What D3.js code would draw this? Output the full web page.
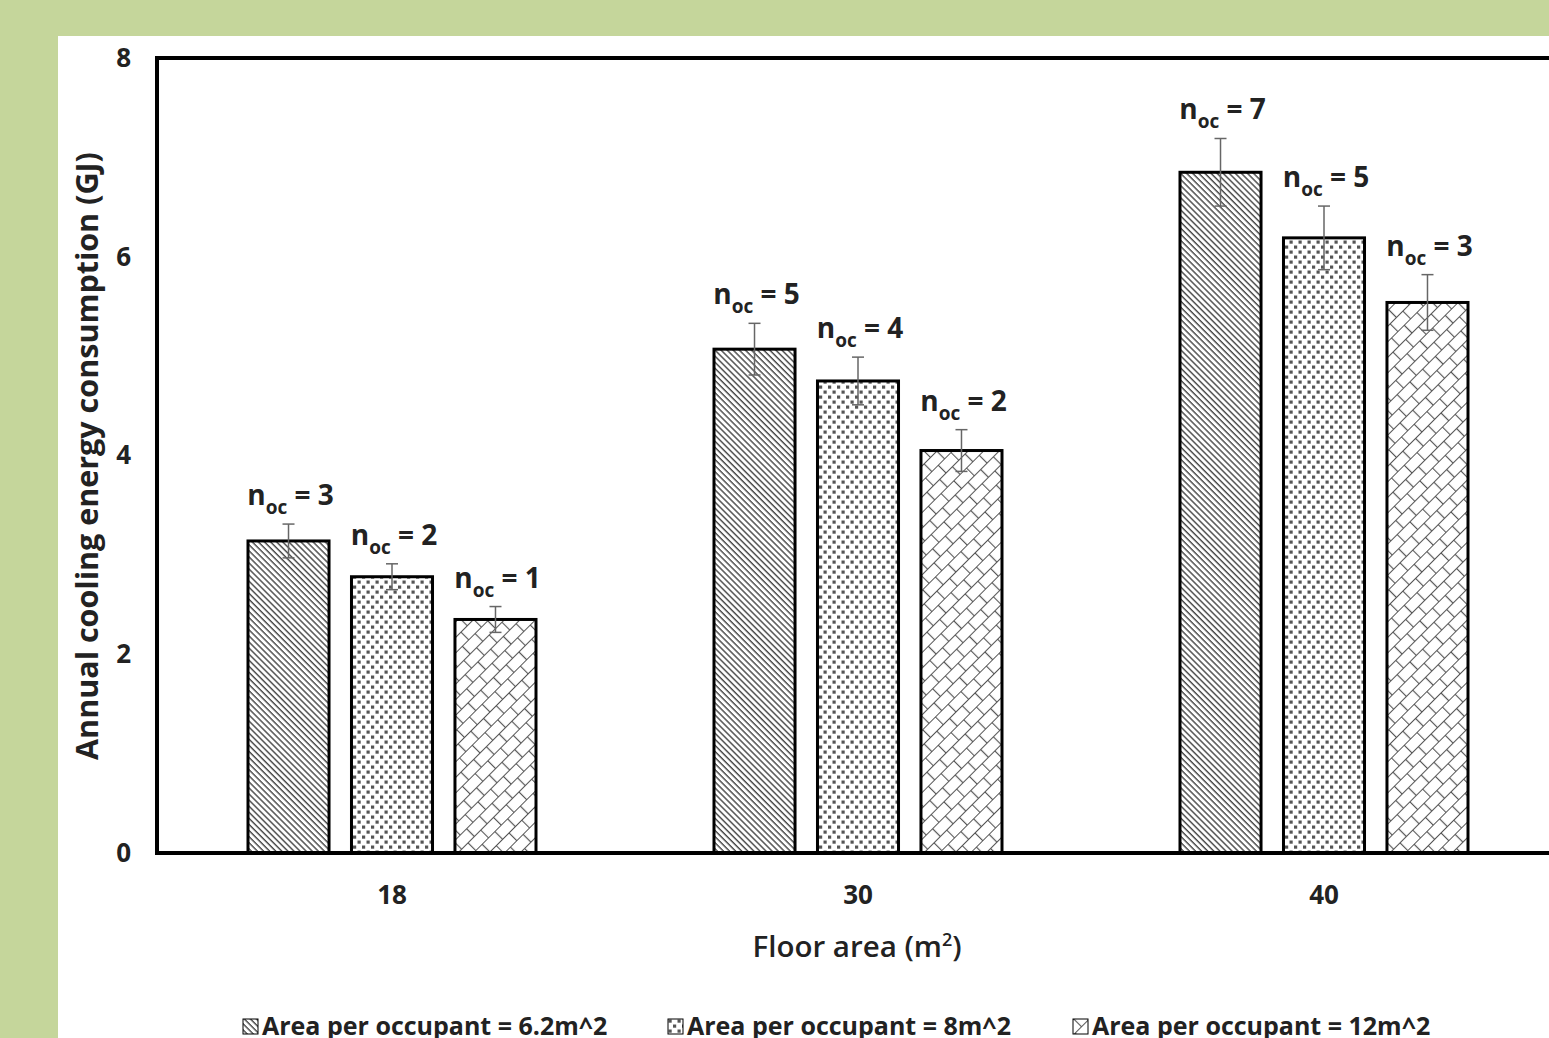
<!DOCTYPE html>
<html lang="en">
<head>
<meta charset="utf-8">
<style>
body {
  margin: 0;
  background: #c5d69b;
  overflow: hidden;
}
#chart-holder {
  position: absolute;
  left: 58px;
  top: 36px;
  width: 1491px;
  height: 1002px;
  background: #ffffff;
}
svg text {
  font-family: 'Open Sans', Lato, sans-serif;
  font-weight: bold;
  fill: #222;
}
</style>
<title>Annual cooling energy</title>
<script src="https://cdn.jsdelivr.net/npm/d3@7"></script>
</head>
<body>
<div id="chart-holder"></div>
<script>

// data
var floorAreas = ["18", "30", "40"];
var seriesNames = ["Area per occupant = 6.2m^2", "Area per occupant = 8m^2", "Area per occupant = 12m^2"];
var energy6 = [3.14, 5.07, 6.85];
var energy8 = [2.78, 4.75, 6.19];
var energy12 = [2.35, 4.05, 5.54];
var err6 = [0.17, 0.26, 0.34];
var err8 = [0.13, 0.24, 0.32];
var err12 = [0.13, 0.21, 0.28];
var occ6 = [3, 5, 7];
var occ8 = [2, 4, 5];
var occ12 = [1, 2, 3];
var yTicks = [0, 2, 4, 6, 8];

var series = [
  {key: seriesNames[0], vals: energy6, errs: err6, occ: occ6, pat: "pat-diag"},
  {key: seriesNames[1], vals: energy8, errs: err8, occ: occ8, pat: "pat-dots"},
  {key: seriesNames[2], vals: energy12, errs: err12, occ: occ12, pat: "pat-brick"}
];

var w = 1549, h = 1038;
var svg = d3.select("body").append("svg")
    .attr("width", w).attr("height", h)
    .style("position", "absolute").style("left", 0).style("top", 0);

// fill patterns
var defs = svg.append("defs");
var p1 = defs.append("pattern").attr("id", "pat-diag")
    .attr("patternUnits", "userSpaceOnUse")
    .attr("width", 4.3).attr("height", 10)
    .attr("patternTransform", "rotate(-45)");
p1.append("rect").attr("width", 4.3).attr("height", 10).attr("fill", "#fff");
p1.append("line").attr("x1", 1).attr("y1", 0).attr("x2", 1).attr("y2", 10)
    .attr("stroke", "#444").attr("stroke-width", 1.4);

var p2 = defs.append("pattern").attr("id", "pat-dots")
    .attr("patternUnits", "userSpaceOnUse")
    .attr("width", 9).attr("height", 10);
p2.append("rect").attr("width", 9).attr("height", 10).attr("fill", "#fff");
p2.append("rect").attr("x", 0.5).attr("y", 0.5).attr("width", 3.2).attr("height", 3.2).attr("fill", "#555");
p2.append("rect").attr("x", 5).attr("y", 5.5).attr("width", 3.2).attr("height", 3.2).attr("fill", "#555");

var p3 = defs.append("pattern").attr("id", "pat-brick")
    .attr("patternUnits", "userSpaceOnUse")
    .attr("width", 18).attr("height", 22)
    .attr("patternTransform", "rotate(-45)");
p3.append("rect").attr("width", 18).attr("height", 22).attr("fill", "#fff");
p3.append("path")
    .attr("d", "M0,0.5H18M0,11.5H18M0.5,0V11.5M9.5,11.5V22")
    .attr("stroke", "#555").attr("stroke-width", 1.2).attr("fill", "none");

var margin = {left: 157, top: 58, bottom: 853};
var plotRight = 157 + 3 * 466;

var x0 = d3.scaleBand().domain(floorAreas).range([margin.left + 2, plotRight + 2]);
var x1 = d3.scaleBand().domain(seriesNames).range([0, x0.bandwidth()])
    .paddingInner(0.217).paddingOuter(0.86);
var y = d3.scaleLinear().domain([0, 8]).range([margin.bottom, margin.top]);

// bars
var groups = svg.selectAll("g.grp")
    .data(floorAreas)
    .enter().append("g")
    .attr("class", "grp")
    .attr("transform", function(d){ return "translate(" + x0(d) + ",0)"; });

groups.each(function(fa, i){
  var g = d3.select(this);
  series.forEach(function(s){
    var v = s.vals[i], e = s.errs[i];
    var bx = x1(s.key), bw = x1.bandwidth(), cx = bx + bw / 2;
    g.append("rect")
      .attr("x", bx).attr("y", y(v))
      .attr("width", bw).attr("height", y(0) - y(v))
      .attr("fill", "url(#" + s.pat + ")")
      .attr("stroke", "#000").attr("stroke-width", 3);
    // error bar
    g.append("line").attr("x1", cx).attr("x2", cx)
      .attr("y1", y(v + e)).attr("y2", y(v - e))
      .attr("stroke", "#666").attr("stroke-width", 1.5);
    [v + e, v - e].forEach(function(ev){
      g.append("line").attr("x1", cx - 6).attr("x2", cx + 6)
        .attr("y1", y(ev)).attr("y2", y(ev))
        .attr("stroke", "#666").attr("stroke-width", 1.5);
    });
    // n_oc label
    var t = g.append("text")
      .attr("x", cx + 2).attr("y", y(v + e) - 19)
      .attr("text-anchor", "middle")
      .style("font-size", "28px");
    t.append("tspan").text("n");
    t.append("tspan").attr("dy", 9).style("font-size", "19px").text("oc");
    t.append("tspan").attr("dy", -9).text(" = " + s.occ[i]);
  });
});

// plot area frame
svg.append("rect")
  .attr("x", margin.left).attr("y", margin.top)
  .attr("width", plotRight - margin.left).attr("height", margin.bottom - margin.top)
  .attr("fill", "none").attr("stroke", "#000").attr("stroke-width", 4);

// y axis labels
var yAxis = d3.axisLeft(y).tickValues(yTicks).tickSize(0).tickPadding(26);
var yg = svg.append("g").attr("transform", "translate(" + margin.left + ",0)").call(yAxis);
yg.select(".domain").remove();
yg.selectAll("text").style("font-size", "26px").style("font-family", "'Open Sans', sans-serif")
  .style("font-weight", "bold").attr("fill", "#222");

// x axis labels
var xAxis = d3.axisBottom(x0).tickSize(0).tickPadding(33);
var xg = svg.append("g").attr("transform", "translate(0," + margin.bottom + ")").call(xAxis);
xg.select(".domain").remove();
xg.selectAll("text").style("font-size", "26px").style("font-family", "'Open Sans', sans-serif")
  .style("font-weight", "bold").attr("fill", "#222");

// axis titles
svg.append("text")
  .attr("transform", "translate(98,456) rotate(-90)")
  .attr("text-anchor", "middle")
  .style("font-size", "30.5px")
  .text("Annual cooling energy consumption (GJ)");

var xt = svg.append("text")
  .attr("x", 857).attr("y", 957)
  .attr("text-anchor", "middle")
  .style("font-size", "29.5px")
  .style("font-weight", "600");
xt.append("tspan").text("Floor area (m");
xt.append("tspan").attr("dy", -11).style("font-size", "18px").text("2");
xt.append("tspan").attr("dy", 11).text(")");

// legend
var legX = [243, 668, 1073];
var leg = svg.selectAll("g.leg")
  .data(series)
  .enter().append("g")
  .attr("class", "leg")
  .attr("transform", function(d, i){ return "translate(" + legX[i] + ",1019)"; });
leg.append("rect").attr("width", 15).attr("height", 15)
  .attr("fill", function(d){ return "url(#" + d.pat + ")"; })
  .attr("stroke", "#000").attr("stroke-width", 1);
leg.append("text").attr("x", 19).attr("y", 16)
  .style("font-size", "25px")
  .text(function(d){ return d.key; });

</script>
</body>
</html>
